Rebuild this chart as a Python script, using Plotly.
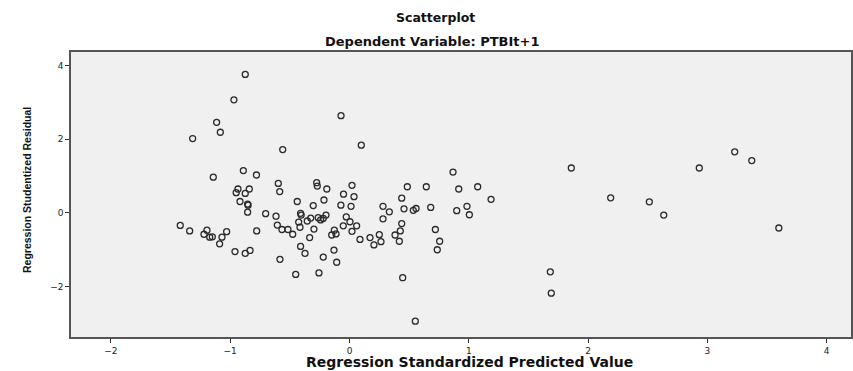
import plotly.graph_objects as go

# Regression Standardized Predicted Value (x) and Studentized Residual (y)
pred_values = [
    -0.874, -0.969, -1.114, -1.083, -1.315, -0.560, -0.071, 0.099,
    -0.890, -0.780, -1.142, -0.597, -0.275, -0.270, -0.190, -0.935,
    -0.840, -0.950, -0.874, -0.585, 0.021, -0.050, 0.038, -0.438,
    -0.918, -0.854, -0.850, -0.304, -0.214, -0.072, 0.013, -0.854,
    -0.703, -0.616, -0.410, -0.405, -0.325, -0.197, -0.262, -0.220,
    -0.242, -0.027, 0.004, -0.052, 0.060, -0.426, -0.354, -0.415,
    -1.419, -1.340, -1.195, -1.220, -1.172, -1.150, -1.069, -1.030,
    -1.089, -0.778, -0.605, -0.566, -0.516, -0.476, -0.298, -0.334,
    -0.127, -0.113, -0.149, 0.021, -0.410, -0.373, -0.960, -0.874,
    -0.834, -0.583, -0.220, -0.130, -0.107, -0.451, -0.256, 0.485,
    0.644, 0.916, 1.075, 1.187, 0.438, 0.281, 0.334, 0.457,
    0.535, 0.558, 0.681, 0.899, 0.985, 1.005, 0.281, 0.438,
    0.426, 0.382, 0.250, 0.172, 0.088, 0.264, 0.205, 0.418,
    0.720, 0.756, 0.736, 0.446, 0.552, 1.684, 1.692, 0.868,
    1.860, 2.190, 2.514, 2.635, 2.933, 3.230, 3.373, 3.600,
]
resid_values = [
    3.76, 3.07, 2.46, 2.19, 2.02, 1.72, 2.64, 1.84,
    1.15, 1.03, 0.97, 0.80, 0.82, 0.73, 0.65, 0.65,
    0.65, 0.55, 0.53, 0.58, 0.75, 0.51, 0.44, 0.31,
    0.31, 0.24, 0.21, 0.20, 0.35, 0.21, 0.18, 0.02,
    -0.02, -0.09, -0.01, -0.06, -0.14, -0.06, -0.13, -0.15,
    -0.19, -0.11, -0.24, -0.35, -0.35, -0.25, -0.22, -0.39,
    -0.34, -0.49, -0.47, -0.58, -0.66, -0.65, -0.66, -0.51,
    -0.84, -0.49, -0.33, -0.45, -0.45, -0.58, -0.44, -0.67,
    -0.47, -0.57, -0.60, -0.50, -0.91, -1.10, -1.05, -1.10,
    -1.02, -1.26, -1.20, -1.01, -1.34, -1.67, -1.63, 0.71,
    0.71, 0.65, 0.71, 0.37, 0.40, 0.18, 0.03, 0.11,
    0.07, 0.12, 0.15, 0.06, 0.18, -0.05, -0.16, -0.29,
    -0.49, -0.60, -0.59, -0.67, -0.72, -0.78, -0.87, -0.77,
    -0.45, -0.77, -1.00, -1.76, -2.94, -1.60, -2.18, 1.11,
    1.22, 0.41, 0.30, -0.06, 1.22, 1.66, 1.42, -0.41,
]

x_ticks = [-2, -1, 0, 1, 2, 3, 4]
y_ticks = [-2, 0, 2, 4]

W, H = 853, 371
ML, MR, MT, MB = 71, 2, 52, 34
PW, PH = W - ML - MR, H - MT - MB

def xp(px):
    return (px - ML) / PW

def yp(py):
    return (H - MB - py) / PH

FONT = "Liberation Sans, Arial, sans-serif"
WIDE = "DejaVu Sans, Verdana, sans-serif"

fig = go.Figure()
fig.add_trace(go.Scatter(
    x=pred_values, y=resid_values, mode="markers",
    marker=dict(symbol="circle-open", size=6, color="#2a2a2a",
                line=dict(width=1.3, color="#2a2a2a")),
    showlegend=False, cliponaxis=True,
))

axis_common = dict(
    showgrid=False, zeroline=False, showline=True, mirror=True,
    linecolor="#555555", linewidth=1.5, automargin=False,
    ticks="outside", ticklen=4, tickwidth=1.2, tickcolor="#333333",
    tickfont=dict(family=WIDE, size=9, color="#222222"),
)

fig.update_layout(
    width=W, height=H,
    margin=dict(l=ML, r=MR, t=MT, b=MB, autoexpand=False),
    paper_bgcolor="white", plot_bgcolor="#f0f0f0",
)

fig.add_annotation(text="<b>Scatterplot</b>", x=xp(435), xref="paper", y=yp(17), yref="paper",
                   showarrow=False, yanchor="middle",
                   font=dict(family=WIDE, size=12.5, color="#111"))
fig.add_annotation(text="<b>Dependent Variable: PTBIt+1</b>", x=xp(432), xref="paper", y=yp(41), yref="paper",
                   showarrow=False, yanchor="middle",
                   font=dict(family=WIDE, size=13, color="#111"))
fig.add_annotation(text="<b>Regression Standardized Predicted Value</b>", x=xp(470), xref="paper",
                   y=yp(362), yref="paper", showarrow=False, yanchor="middle",
                   font=dict(family=WIDE, size=14, color="#111"))
fig.add_annotation(text="<b>Regression Studentized Residual</b>", x=xp(27), xref="paper",
                   y=yp(190), yref="paper", showarrow=False, textangle=-90,
                   xanchor="center", yanchor="middle",
                   font=dict(family=FONT, size=10.5, color="#111"))

fig.update_xaxes(range=[-2.335, 4.205], tickvals=x_ticks, **axis_common)
fig.update_yaxes(range=[-3.37, 4.37], tickvals=y_ticks, **axis_common)

fig.write_html("out.html", config={"displayModeBar": False},
               post_script="document.body.style.margin='0';document.body.style.padding='0';")
